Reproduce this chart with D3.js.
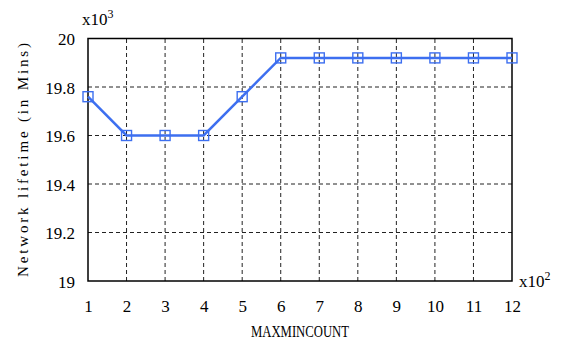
<!DOCTYPE html>
<html>
<head>
<meta charset="utf-8">
<script src="https://cdn.jsdelivr.net/npm/d3@7"></script>
<style>
  html, body { margin: 0; padding: 0; background: #fff; }
  svg { display: block; }
</style>
</head>
<body>
<div id="chart"></div>
<script>
// ---- data ----
const xValues = [1, 2, 3, 4, 5, 6, 7, 8, 9, 10, 11, 12];
const lifetime = [19.76, 19.6, 19.6, 19.6, 19.76, 19.92, 19.92, 19.92, 19.92, 19.92, 19.92, 19.92];
const xTicks = [1, 2, 3, 4, 5, 6, 7, 8, 9, 10, 11, 12];
const yTicks = [19, 19.2, 19.4, 19.6, 19.8, 20];
const yTickLabels = ["19", "19.2", "19.4", "19.6", "19.8", "20"];
const xLabel = "MAXMINCOUNT";
const yLabel = "Network lifetime (in Mins)";

const FONT = "Liberation Serif";
const W = 563, H = 344;
const margin = { left: 88, right: 51, top: 38.5, bottom: 63 };
const svg = d3.select("#chart").append("svg").attr("width", W).attr("height", H)
  .attr("font-family", FONT);

const x = d3.scaleLinear().domain([1, 12]).range([margin.left, W - margin.right]);
const y = d3.scaleLinear().domain([19, 20]).range([H - margin.bottom, margin.top]);

const blue = "#3d6ff0";

// grid
const grid = svg.append("g");
grid.selectAll("line.v").data(xTicks.slice(1, -1)).enter().append("line")
  .attr("x1", d => x(d)).attr("x2", d => x(d))
  .attr("y1", y(19)).attr("y2", y(20))
  .attr("stroke", "#222").attr("stroke-width", 1).attr("stroke-dasharray", "4,3");
grid.selectAll("line.h").data(yTicks.slice(1, -1)).enter().append("line")
  .attr("x1", x(1)).attr("x2", x(12))
  .attr("y1", d => y(d)).attr("y2", d => y(d))
  .attr("stroke", "#222").attr("stroke-width", 1).attr("stroke-dasharray", "4,3");

// axes via d3
const xAxis = svg.append("g").attr("transform", `translate(0,${y(19)})`)
  .call(d3.axisBottom(x).tickValues(xTicks).tickSize(0).tickPadding(0).tickFormat(d3.format("d")));
xAxis.attr("font-family", FONT).attr("font-size", 17);
xAxis.select(".domain").remove();
xAxis.selectAll("text").attr("dy", 0).attr("y", 31).attr("fill", "#000");

const yAxis = svg.append("g").attr("transform", `translate(${x(1)},0)`)
  .call(d3.axisLeft(y).tickValues(yTicks).tickSize(0).tickPadding(0)
    .tickFormat((d, i) => yTickLabels[i]));
yAxis.attr("font-family", FONT).attr("font-size", 17);
yAxis.select(".domain").remove();
yAxis.selectAll("text").attr("x", -13).attr("dy", "0.38em").attr("fill", "#000");

// frame
svg.append("rect")
  .attr("x", x(1)).attr("y", y(20))
  .attr("width", x(12) - x(1)).attr("height", y(19) - y(20))
  .attr("fill", "none").attr("stroke", "#000").attr("stroke-width", 1.5);

// line
const line = d3.line().x((d, i) => x(xValues[i])).y(d => y(d));
svg.append("path").datum(lifetime)
  .attr("d", line).attr("fill", "none").attr("stroke", blue).attr("stroke-width", 2.5);

// markers
const ms = 10;
svg.selectAll("rect.mk").data(lifetime).enter().append("rect")
  .attr("class", "mk")
  .attr("x", (d, i) => x(xValues[i]) - ms / 2)
  .attr("y", d => y(d) - ms / 2)
  .attr("width", ms).attr("height", ms)
  .attr("fill", "none").attr("stroke", blue).attr("stroke-width", 1.4);

// multipliers
const m1 = svg.append("text").attr("x", 82).attr("y", 25).attr("font-size", 17);
m1.append("tspan").text("x10");
m1.append("tspan").attr("dy", -7).attr("font-size", 12).text("3");

const m2 = svg.append("text").attr("x", 519).attr("y", 287).attr("font-size", 17);
m2.append("tspan").text("x10");
m2.append("tspan").attr("dy", -7).attr("font-size", 12).text("2");

// axis titles
svg.append("text")
  .attr("x", (x(1) + x(12)) / 2).attr("y", 337)
  .attr("text-anchor", "middle").attr("font-size", 16)
  .attr("textLength", 98).attr("lengthAdjust", "spacingAndGlyphs")
  .text(xLabel);

svg.append("text")
  .attr("transform", `translate(28,160) rotate(-90)`)
  .attr("text-anchor", "middle").attr("font-size", 15)
  .attr("textLength", 234).attr("lengthAdjust", "spacing")
  .text(yLabel);
</script>
</body>
</html>
